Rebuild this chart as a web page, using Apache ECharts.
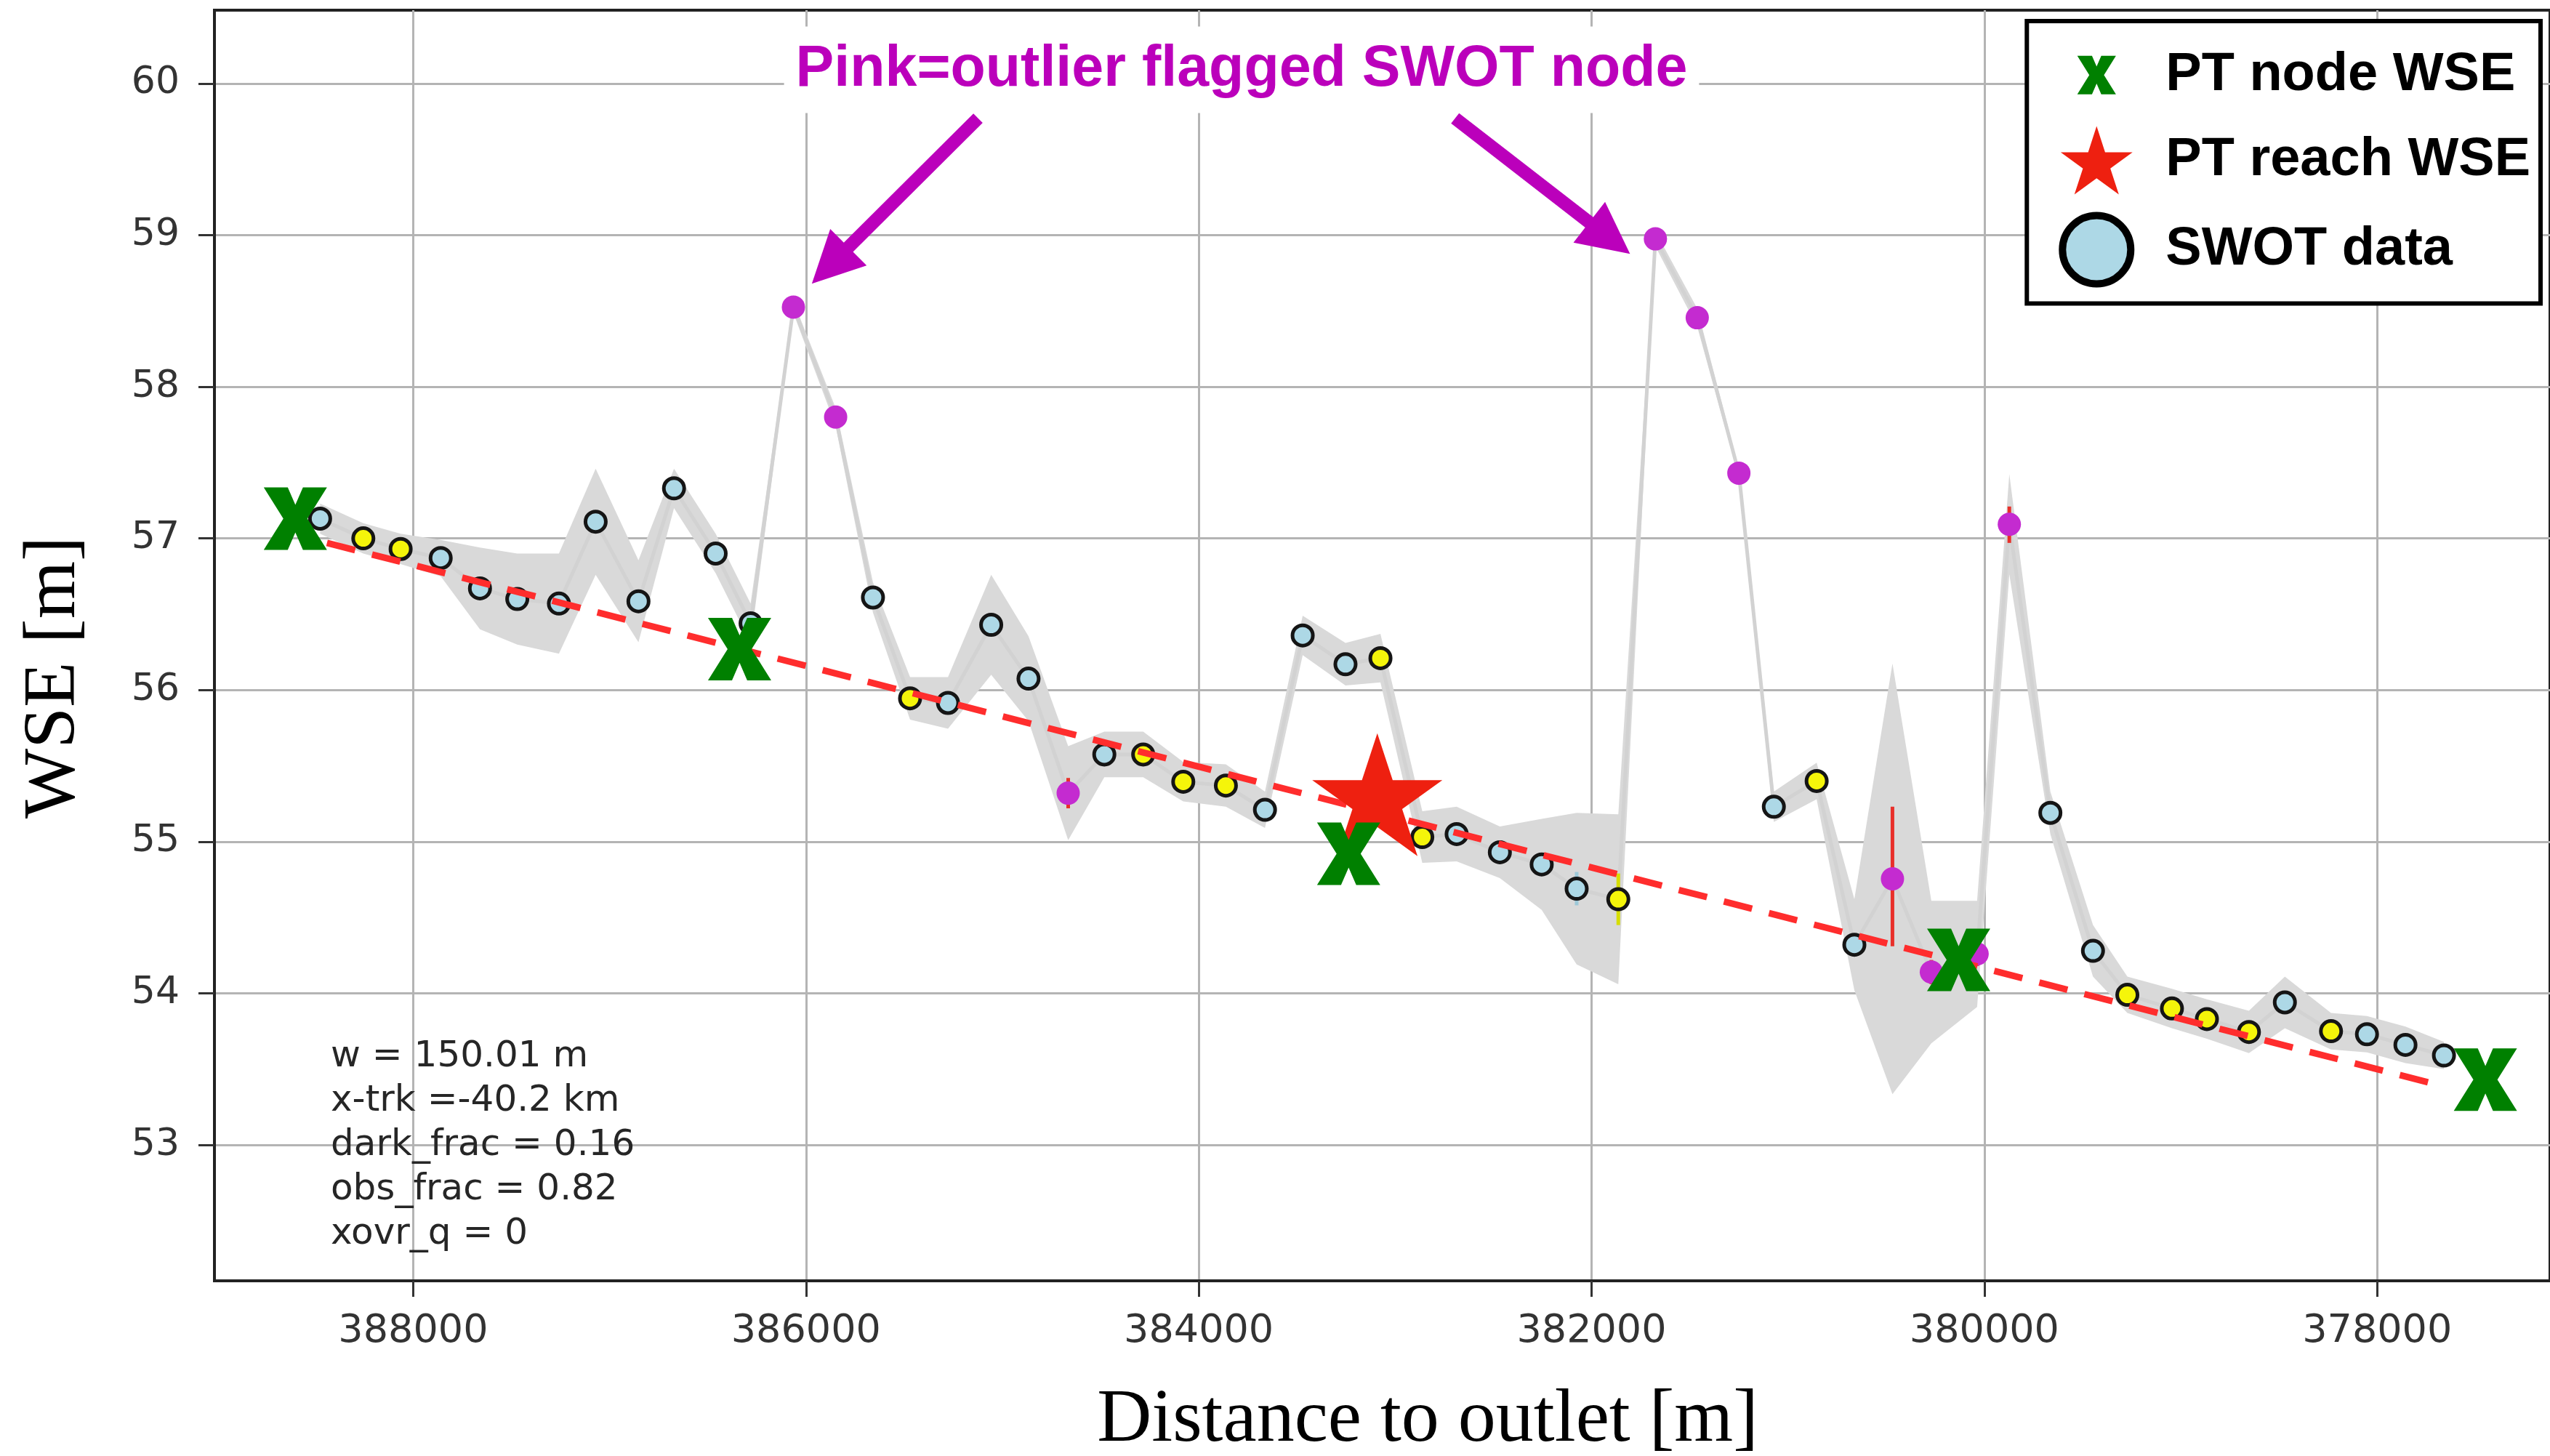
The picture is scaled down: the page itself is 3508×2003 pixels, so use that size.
<!DOCTYPE html>
<html>
<head>
<meta charset="utf-8">
<script src="https://cdn.jsdelivr.net/npm/echarts@6/dist/echarts.min.js"></script>
<style>
html,body{margin:0;padding:0;background:#ffffff;}
#chart{width:3508px;height:2003px;}
</style>
</head>
<body>
<div id="chart"></div>
<script>
// ---------------- data ----------------
const nodeDist = [388474,388254,388064,387860,387660,387470,387258,387071,386853,386672,386460,386282,386064,385849,385659,385470,385277,385057,384867,384665,384481,384283,384079,383862,383663,383471,383253,383075,382862,382687,382467,382254,382076,381864,381675,381462,381250,381072,380854,380662,380468,380270,380037,379873,379664,379447,379272,379045,378867,378653,378470,378235,378052,377856,377660];
const nodeWse = [57.13,57.00,56.93,56.87,56.67,56.60,56.57,57.11,56.585,57.33,56.90,56.44,58.525,57.80,56.61,55.945,55.915,56.43,56.075,55.32,55.575,55.575,55.395,55.37,55.21,56.36,56.17,56.21,55.03,55.05,54.93,54.85,54.69,54.62,58.975,58.455,57.43,55.23,55.40,54.32,54.755,54.14,54.26,57.093,55.19,54.28,53.99,53.90,53.83,53.745,53.94,53.75,53.73,53.66,53.59];
// b = regular node, y = yellow-flagged node, m = outlier-flagged node
const nodeFlag = ['b','y','y','b','b','b','b','b','b','b','b','b','m','m','b','y','b','b','b','m','b','y','y','y','b','b','b','y','y','b','b','b','b','y','m','m','m','b','y','b','m','m','m','m','b','b','y','y','y','y','b','y','b','b','b'];
const nodeBandHalf = [0.10,0.10,0.10,0.12,0.27,0.30,0.33,0.35,0.27,0.13,0.13,0.13,0.04,0.06,0.10,0.14,0.17,0.33,0.28,0.31,0.15,0.15,0.13,0.14,0.12,0.13,0.14,0.16,0.17,0.18,0.17,0.30,0.50,0.56,0.05,0.06,0.03,0.10,0.12,0.30,1.42,0.47,0.35,0.33,0.14,0.17,0.12,0.13,0.13,0.14,0.17,0.12,0.12,0.12,0.09];

const errDist = [384665, 382076, 381864, 380468, 380270, 380037, 379873];
const errLo   = [55.22, 54.58, 54.45, 54.31, 54.06, 54.18, 56.97];
const errHi   = [55.42, 54.80, 54.79, 55.23, 54.22, 54.34, 57.21];
const errKind = ['m','b','y','m','m','m','m'];

const fitDist = [388439, 377671];
const fitWse  = [56.97, 53.39];

const ptNodeDist = [388600, 386338, 383237, 380131, 377449];
const ptNodeWse  = [57.13, 56.27, 54.92, 54.22, 53.43];

const ptReachDist = [383091];
const ptReachWse  = [55.31];

const xTickValues = [378000, 380000, 382000, 384000, 386000, 388000];
const yTickValues = [53, 54, 55, 56, 57, 58, 59, 60];

// annotation arrows (tail -> head), in data coordinates
const arrowTailDist = [385124, 382695];
const arrowTailWse  = [59.77, 59.77];
const arrowHeadDist = [385877, 381908];
const arrowHeadWse  = [58.80, 58.98];

const infoLines = ['w = 150.01 m', 'x-trk =-40.2 km', 'dark_frac = 0.16', 'obs_frac = 0.82', 'xovr_q = 0'];

// ---------------- shapes ----------------
function makeStar() {
  const pts = [];
  for (let k = 0; k < 10; k++) {
    const r = (k % 2 === 0) ? 50 : 19.1;
    const a = -Math.PI / 2 + k * Math.PI / 5;
    pts.push((50 + r * Math.cos(a)).toFixed(2) + ',' + (50 + r * Math.sin(a)).toFixed(2));
  }
  return 'path://M' + pts.join(' L') + ' Z';
}
const starPath = makeStar();
const xGlyph = 'M0,0 L38,0 L50,28 L62,0 L100,0 L69,50 L100,100 L62,100 L50,72 L38,100 L0,100 L31,50 Z';
const xPath = 'path://' + xGlyph;
const xLegendPath = 'path://M-44,-37 M144,137 ' + xGlyph;

const colBlue = '#add8e6', colYellow = '#f5f50a', colMag = '#c42bd0';
const errColors = {m: '#e8302a', b: '#9cc8d8', y: '#d6de00'};

function nodesOf(flag) {
  const out = [];
  nodeDist.forEach((d, i) => { if (nodeFlag[i] === flag) out.push([d, nodeWse[i]]); });
  return out;
}

const bandData = nodeDist.map((d, i) => [d, nodeWse[i] - nodeBandHalf[i], nodeWse[i] + nodeBandHalf[i]]);
const errData = errDist.map((d, i) => [d, errLo[i], errHi[i], i]);

const chart = echarts.init(document.getElementById('chart'), null, {renderer: 'canvas'});

const option = {
  animation: false,
  backgroundColor: '#ffffff',
  grid: {left: 295, top: 14, right: -4, bottom: 241, show: true, borderColor: '#222', borderWidth: 4, backgroundColor: 'transparent'},
  xAxis: {
    type: 'value', inverse: true, min: 377120, max: 389012, splitNumber: 6,
    axisLine: {show: true, onZero: false, lineStyle: {color: '#222', width: 4}},
    axisTick: {show: true, inside: false, length: 22, customValues: xTickValues, lineStyle: {color: '#333', width: 3}},
    axisLabel: {customValues: xTickValues, fontFamily: 'DejaVu Sans', fontSize: 54, color: '#333', margin: 43, formatter: v => String(v)},
    splitLine: {show: true, lineStyle: {color: '#b4b4b4', width: 3}}
  },
  yAxis: {
    type: 'value', min: 52.104, max: 60.483, splitNumber: 8,
    axisLine: {show: true, onZero: false, lineStyle: {color: '#222', width: 4}},
    axisTick: {show: true, inside: false, length: 22, customValues: yTickValues, lineStyle: {color: '#333', width: 3}},
    axisLabel: {customValues: yTickValues, fontFamily: 'DejaVu Sans', fontSize: 52, color: '#333', margin: 48, formatter: v => String(v)},
    splitLine: {show: true, lineStyle: {color: '#b4b4b4', width: 3}}
  },
  legend: {
    orient: 'vertical', right: 13, top: 29,
    backgroundColor: '#ffffff', borderColor: '#000', borderWidth: 6, borderRadius: 0,
    padding: [28, 14, 22, 44], itemGap: 24, itemWidth: 100, itemHeight: 94,
    selectedMode: false,
    textStyle: {fontFamily: 'Liberation Sans', fontWeight: 'bold', fontSize: 74, color: '#000', padding: [0, 0, 0, 40]},
    data: [
      {name: 'PT node WSE', icon: xLegendPath},
      {name: 'PT reach WSE', icon: starPath},
      {name: 'SWOT data', icon: 'circle', itemStyle: {color: colBlue, borderColor: '#000', borderWidth: 10}}
    ]
  },
  series: [
    {
      type: 'custom', name: 'band', coordinateSystem: 'cartesian2d', z: 1, silent: true, clip: true,
      data: bandData, encode: {x: 0, y: [1, 2]},
      renderItem: function (params, api) {
        if (params.dataIndex !== 0) return null;
        const upper = bandData.map(r => api.coord([r[0], r[2]]));
        const lower = bandData.map(r => api.coord([r[0], r[1]])).reverse();
        return {type: 'polygon', shape: {points: upper.concat(lower)}, style: {fill: '#d9d9d9'}};
      }
    },
    {
      type: 'line', name: 'track', z: 2, silent: true, showSymbol: false, symbol: 'none', clip: true,
      data: nodeDist.map((d, i) => [d, nodeWse[i]]),
      lineStyle: {color: '#d2d2d2', width: 5}
    },
    {
      type: 'custom', name: 'errbars', coordinateSystem: 'cartesian2d', z: 3, silent: true,
      data: errData, encode: {x: 0, y: [1, 2]},
      renderItem: function (params, api) {
        const p1 = api.coord([api.value(0), api.value(1)]);
        const p2 = api.coord([api.value(0), api.value(2)]);
        const kind = errKind[api.value(3)];
        return {type: 'line', shape: {x1: p1[0], y1: p1[1], x2: p2[0], y2: p2[1]}, style: {stroke: errColors[kind], lineWidth: 5}};
      }
    },
    {
      type: 'scatter', name: 'SWOT data', z: 4, silent: true,
      data: nodesOf('b'), symbol: 'circle', symbolSize: 28,
      itemStyle: {color: colBlue, borderColor: '#151515', borderWidth: 5, opacity: 1}
    },
    {
      type: 'scatter', name: 'SWOT flagged', z: 4, silent: true,
      data: nodesOf('y'), symbol: 'circle', symbolSize: 28,
      itemStyle: {color: colYellow, borderColor: '#151515', borderWidth: 5, opacity: 1}
    },
    {
      type: 'scatter', name: 'SWOT outlier', z: 4, silent: true,
      data: nodesOf('m'), symbol: 'circle', symbolSize: 32,
      itemStyle: {color: colMag, borderWidth: 0, opacity: 1}
    },
    {
      type: 'line', name: 'reach fit', z: 5, silent: true, showSymbol: false, symbol: 'none',
      data: fitDist.map((d, i) => [d, fitWse[i]]),
      lineStyle: {color: '#ff2d2d', width: 9, type: [40, 24]}
    },
    {
      type: 'scatter', name: 'PT reach WSE', z: 6, silent: true,
      data: ptReachDist.map((d, i) => [d, ptReachWse[i]]),
      symbol: starPath, symbolSize: [179, 169],
      itemStyle: {color: '#ee2010', opacity: 1}
    },
    {
      type: 'scatter', name: 'PT node WSE', z: 7, silent: true,
      data: ptNodeDist.map((d, i) => [d, ptNodeWse[i]]),
      symbol: xPath, symbolSize: [87, 86],
      itemStyle: {color: '#008000', opacity: 1}
    },
    {
      type: 'scatter', name: 'arrows', z: 9, silent: true, data: [],
      markLine: {
        silent: true, animation: false,
        symbol: ['none', 'triangle'], symbolSize: [71, 71],
        lineStyle: {color: '#bb00bb', width: 18, type: 'solid', opacity: 1},
        label: {show: false},
        emphasis: {disabled: true},
        data: arrowTailDist.map((d, i) => [
          {coord: [d, arrowTailWse[i]]},
          {coord: [arrowHeadDist[i], arrowHeadWse[i]]}
        ])
      }
    }
  ],
  graphic: [
    {
      type: 'text', x: 1708, y: 96, z: 100, silent: true,
      style: {text: 'Pink=outlier flagged SWOT node', fill: '#bb00bb', fontFamily: 'Liberation Sans', fontWeight: 'bold', fontSize: 79,
        align: 'center', verticalAlign: 'middle', backgroundColor: '#ffffff', padding: [14, 16, 26, 16]}
    },
    {
      type: 'text', x: 455, y: 1424, z: 100, silent: true,
      style: {text: infoLines.join('\n'), fill: '#262626', fontFamily: 'DejaVu Sans', fontSize: 50, lineHeight: 61,
        align: 'left', verticalAlign: 'top'}
    },
    {
      type: 'text', x: 75, y: 932, rotation: Math.PI / 2, z: 100, silent: true,
      style: {text: 'WSE [m]', fill: '#000', fontFamily: 'Liberation Serif', fontSize: 102, align: 'center', verticalAlign: 'middle'}
    },
    {
      type: 'text', x: 1964, y: 1955, z: 100, silent: true,
      style: {text: 'Distance to outlet [m]', fill: '#000', fontFamily: 'Liberation Serif', fontSize: 104, align: 'center', verticalAlign: 'middle'}
    }
  ]
};
chart.setOption(option);
</script>
</body>
</html>
